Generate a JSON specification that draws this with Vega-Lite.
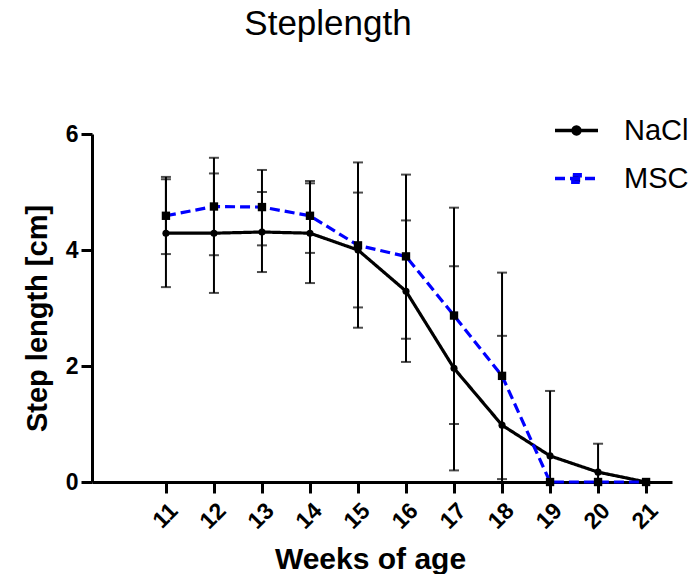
{
  "$schema": "https://vega.github.io/schema/vega-lite/v6.json",
  "width": 580,
  "height": 348,
  "autosize": {"type": "none"},
  "padding": {"left": 92, "top": 134, "right": 28, "bottom": 92},
  "background": "white",
  "config": {
    "font": "Liberation Sans",
    "view": {"stroke": null},
    "axis": {"grid": false, "domainColor": "black", "tickColor": "black", "labelColor": "black", "titleColor": "black"},
    "legend": {"padding": 0}
  },
  "title": {
    "text": "Steplength",
    "fontSize": 35,
    "fontWeight": "normal",
    "font": "Liberation Sans",
    "color": "black",
    "anchor": "middle",
    "frame": "group",
    "dx": -54,
    "offset": 65
  },
  "data": {
    "values": [
      {"week": 11, "group": "NaCl", "mean": 4.29, "lo": 3.36, "hi": 5.22},
      {"week": 12, "group": "NaCl", "mean": 4.29, "lo": 3.26, "hi": 5.32},
      {"week": 13, "group": "NaCl", "mean": 4.31, "lo": 3.62, "hi": 5.00},
      {"week": 14, "group": "NaCl", "mean": 4.29, "lo": 3.43, "hi": 5.15},
      {"week": 15, "group": "NaCl", "mean": 4.00, "lo": 3.01, "hi": 4.99},
      {"week": 16, "group": "NaCl", "mean": 3.29, "lo": 2.07, "hi": 4.51},
      {"week": 17, "group": "NaCl", "mean": 1.96, "lo": 0.20, "hi": 3.72},
      {"week": 18, "group": "NaCl", "mean": 0.98, "lo": 0.0, "hi": 2.52},
      {"week": 19, "group": "NaCl", "mean": 0.45, "lo": 0.0, "hi": 1.57},
      {"week": 20, "group": "NaCl", "mean": 0.17, "lo": 0.0, "hi": 0.66},
      {"week": 21, "group": "NaCl", "mean": 0.0, "lo": 0.0, "hi": 0.0},
      {"week": 11, "group": "MSC", "mean": 4.59, "lo": 3.93, "hi": 5.26},
      {"week": 12, "group": "MSC", "mean": 4.75, "lo": 3.91, "hi": 5.59},
      {"week": 13, "group": "MSC", "mean": 4.74, "lo": 4.08, "hi": 5.38},
      {"week": 14, "group": "MSC", "mean": 4.59, "lo": 3.95, "hi": 5.19},
      {"week": 15, "group": "MSC", "mean": 4.08, "lo": 2.66, "hi": 5.51},
      {"week": 16, "group": "MSC", "mean": 3.89, "lo": 2.47, "hi": 5.30},
      {"week": 17, "group": "MSC", "mean": 2.87, "lo": 1.00, "hi": 4.73},
      {"week": 18, "group": "MSC", "mean": 1.83, "lo": 0.05, "hi": 3.61},
      {"week": 19, "group": "MSC", "mean": 0.0, "lo": 0.0, "hi": 0.0},
      {"week": 20, "group": "MSC", "mean": 0.0, "lo": 0.0, "hi": 0.0},
      {"week": 21, "group": "MSC", "mean": 0.0, "lo": 0.0, "hi": 0.0}
    ]
  },
  "encoding": {
    "x": {
      "field": "week",
      "type": "quantitative",
      "scale": {"domain": [9.46, 21.54], "nice": false, "zero": false},
      "axis": {
        "values": [11, 12, 13, 14, 15, 16, 17, 18, 19, 20, 21],
        "title": "Weeks of age",
        "titleFontSize": 30,
        "titleFontWeight": "bold",
        "titleX": 278,
        "titleY": 86,
        "titleAlign": "center",
        "titleBaseline": "alphabetic",
        "labelAngle": -45,
        "labelFontSize": 23,
        "labelFontWeight": "bold",
        "labelPadding": 6,
        "labelDx": -12,
        "labelDy": 2,
        "tickSize": 11,
        "tickWidth": 3,
        "domainWidth": 3
      }
    }
  },
  "layer": [
    {
      "mark": {"type": "rule", "color": "black", "strokeWidth": 2},
      "encoding": {
        "y": {"field": "lo", "type": "quantitative"},
        "y2": {"field": "hi"}
      }
    },
    {
      "mark": {"type": "tick", "color": "black", "orient": "horizontal", "size": 10, "thickness": 2},
      "encoding": {"y": {"field": "hi", "type": "quantitative"}}
    },
    {
      "mark": {"type": "tick", "color": "black", "orient": "horizontal", "size": 10, "thickness": 2},
      "encoding": {"y": {"field": "lo", "type": "quantitative"}}
    },
    {
      "mark": {"type": "line", "strokeWidth": 3.2},
      "encoding": {
        "y": {"field": "mean", "type": "quantitative"},
        "color": {
          "field": "group",
          "type": "nominal",
          "scale": {"domain": ["NaCl", "MSC"], "range": ["black", "#0000ff"]},
          "legend": {
            "title": null,
            "orient": "none",
            "legendX": 461,
            "legendY": -27,
            "labelFontSize": 29,
            "labelColor": "black",
            "symbolType": "stroke",
            "symbolStrokeWidth": 3.5,
            "symbolSize": 1849,
            "rowPadding": 9,
            "labelOffset": 24,
            "encode": {
              "symbols": {
                "update": {
                  "shape": {"signal": "datum.value === 'NaCl' ? 'M-1,0H1M0.16,0A0.16,0.16 0 1,1 -0.16,0A0.16,0.16 0 1,1 0.16,0Z' : 'M-1,0H1M-0.17,-0.17H0.17V0.17H-0.17Z'"},
                  "fill": {"value": "black"},
                  "fillOpacity": {"value": 1}
                }
              }
            }
          }
        },
        "strokeDash": {
          "field": "group",
          "type": "nominal",
          "scale": {"domain": ["NaCl", "MSC"], "range": [[1, 0], [10, 5]]},
          "legend": null
        }
      }
    },
    {
      "transform": [{"filter": "datum.group === 'NaCl'"}],
      "mark": {"type": "point", "shape": "circle", "filled": true, "opacity": 1, "color": "black", "size": 50},
      "encoding": {"y": {"field": "mean", "type": "quantitative"}}
    },
    {
      "transform": [{"filter": "datum.group === 'MSC'"}],
      "mark": {"type": "point", "shape": "square", "filled": true, "opacity": 1, "color": "black", "size": 70},
      "encoding": {
        "y": {
          "field": "mean",
          "type": "quantitative",
          "scale": {"domain": [0, 6], "nice": false},
          "axis": {
            "values": [0, 2, 4, 6],
            "format": "d",
            "title": "Step length [cm]",
            "titleFontSize": 29,
            "titleFontWeight": "bold",
            "titleAngle": -90,
            "titleX": -55,
            "titleY": 184,
            "titleAlign": "center",
            "titleBaseline": "middle",
            "labelFontSize": 23,
            "labelFontWeight": "bold",
            "labelPadding": 3,
            "tickSize": 11,
            "tickWidth": 3,
            "domainWidth": 3
          }
        }
      }
    }
  ]
}
